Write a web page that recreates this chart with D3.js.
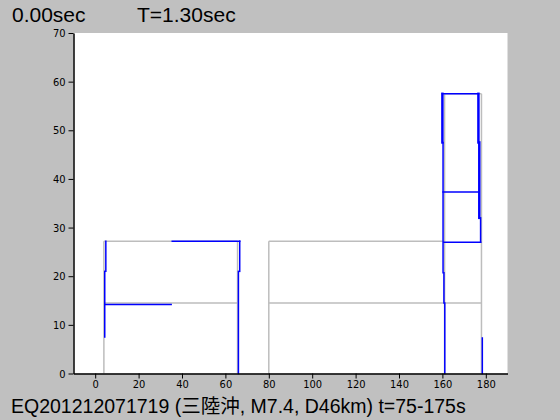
<!DOCTYPE html>
<html><head><meta charset="utf-8">
<script src="https://cdn.jsdelivr.net/npm/d3@7/dist/d3.min.js"></script>
<style>body{margin:0;background:#c0c0c0;}svg{display:block;}</style>
</head><body>
<script>
const xTicks = [0,20,40,60,80,100,120,140,160,180];
const yTicks = [0,10,20,30,40,50,60,70];
const leftLabel = "0.00sec";
const rightLabel = "T=1.30sec";
const caption = "EQ201212071719 (三陸沖, M7.4, D46km) t=75-175s";
// gray reference outline segments [x1,y1,x2,y2]
const graySegments = [
  [4,0,4,27.2],[4,27.2,65.6,27.2],[65.6,0,65.6,27.2],[4,14.5,65.6,14.5],
  [80,0,80,27.2],[80,27.2,161,27.2],[80,14.5,178,14.5],
  [161,0,161,57.5],[178,0,178,57.5],[161,57.5,178,57.5]
];
// blue response segments [x1,y1,x2,y2,weight]
const blueSegments = [
  [4.4,7.5,4.4,21,1.5],[4.9,21,4.9,27.2,1.5],[4.4,14.2,35,14.2,1.5],
  [35.5,27.2,66.6,27.2,1.5],[66.6,27.2,66.6,21,1.5],[66,21,66,0,1.5],
  [160,57.5,160,47.5,2.5],[160.3,47.5,160.3,20.7,1.5],[160.7,20.7,160.7,14.5,1.5],[161.1,14.5,161.1,0,1.5],
  [160,57.5,176.6,57.5,1.5],[176.6,57.5,176.6,47.5,2.5],[177,47.5,177,32,2.5],[177.6,32,177.6,27,1.5],
  [160.3,37.3,177,37.3,1.5],[160.7,27,177.6,27,1.5],[178.4,7.3,178.4,0,1.5]
];

const W=560,H=420;
const svg=d3.select("body").append("svg").attr("width",W).attr("height",H);
svg.append("rect").attr("width",W).attr("height",H).attr("fill","#c0c0c0");
const x=d3.scaleLinear().domain([-10,190]).range([73.5,507.5]);
const y=d3.scaleLinear().domain([0,70]).range([373.5,33]);
svg.append("rect").attr("x",x(-10)).attr("y",y(70)).attr("width",x(190)-x(-10)).attr("height",y(0)-y(70)).attr("fill","#fff");

const g=svg.append("g");
g.selectAll("line.gray").data(graySegments).join("line").attr("class","gray")
  .attr("x1",d=>x(d[0])).attr("y1",d=>y(d[1])).attr("x2",d=>x(d[2])).attr("y2",d=>y(d[3]))
  .attr("stroke","#bdbdbd").attr("stroke-width",1.5);
g.selectAll("line.blue").data(blueSegments).join("line").attr("class","blue")
  .attr("x1",d=>x(d[0])).attr("y1",d=>y(d[1])).attr("x2",d=>x(d[2])).attr("y2",d=>y(d[3]))
  .attr("stroke","#0000ff").attr("stroke-width",d=>d[4]).attr("stroke-linecap","square");

const tickFont='"Liberation Sans Narrow","DejaVu Sans Condensed",sans-serif';
const xa=svg.append("g").attr("transform",`translate(0,${y(0)})`)
  .call(d3.axisBottom(x).tickValues(xTicks).tickSize(5).tickSizeOuter(0).tickPadding(2));
const ya=svg.append("g").attr("transform",`translate(${x(-10)},0)`)
  .call(d3.axisLeft(y).tickValues(yTicks).tickSize(5).tickSizeOuter(0).tickPadding(3));
[xa,ya].forEach(a=>{
  a.select(".domain").attr("stroke","#000").attr("stroke-width",1.5);
  a.selectAll(".tick line").attr("stroke","#000");
  a.selectAll("text").attr("fill","#000").style("font-family",tickFont).style("font-size","11px");
});

const mainFont='"Liberation Sans","Noto Sans CJK JP",sans-serif';
svg.append("text").attr("x",12).attr("y",22).text(leftLabel)
  .style("font-family",mainFont).style("font-size","21px").attr("fill","#000");
svg.append("text").attr("x",137).attr("y",22).text(rightLabel)
  .style("font-family",mainFont).style("font-size","21px").attr("fill","#000");
svg.append("text").attr("x",11).attr("y",413).text(caption)
  .style("font-family",mainFont).style("font-size","19.5px").attr("fill","#000");
</script>
</body></html>
